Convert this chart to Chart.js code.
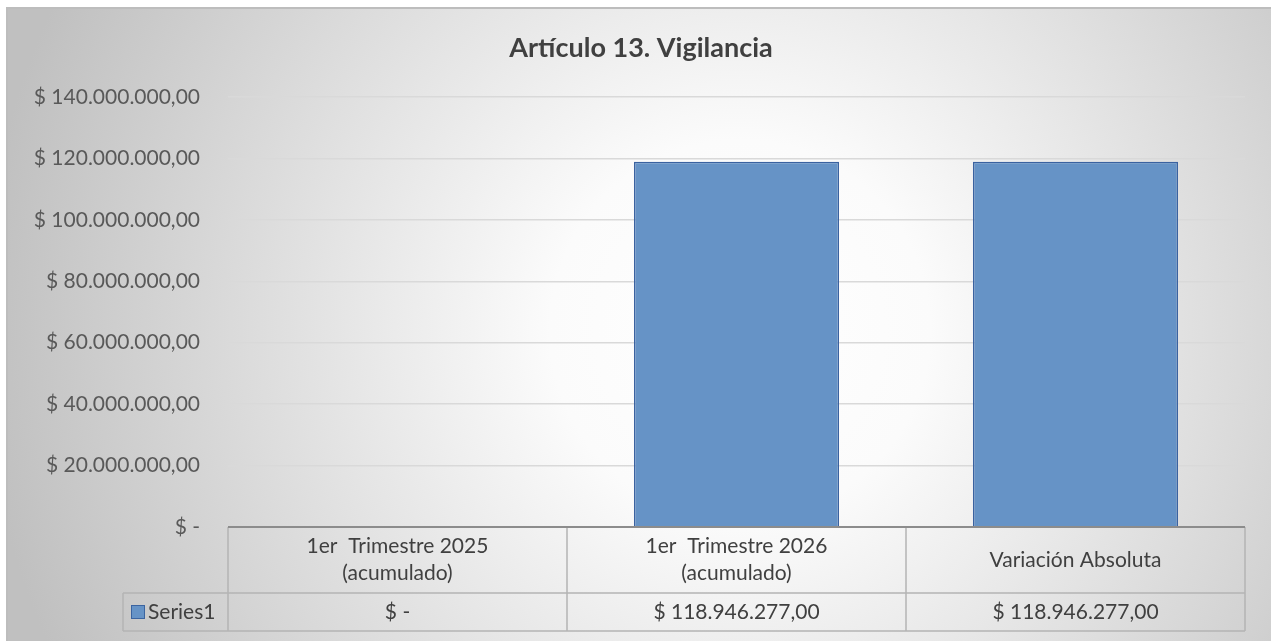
<!DOCTYPE html>
<html>
<head>
<meta charset="utf-8">
<script src="https://cdn.jsdelivr.net/npm/chart.js@4.4.1/dist/chart.umd.min.js"></script>
<style>
  html, body { margin: 0; padding: 0; background: #ffffff; }
  #wrap { width: 1271px; height: 641px; position: relative; }
</style>
</head>
<body>
<div id="wrap"><canvas id="chart" width="1271" height="641"></canvas></div>
<script>
const chartTitle = "Artículo 13. Vigilancia";
const categories = [
    ["1er  Trimestre 2025", "(acumulado)"],
    ["1er  Trimestre 2026", "(acumulado)"],
    ["Variación Absoluta"]
];
const seriesName = "Series1";
const values = [0, 118946277, 118946277];
const yMax = 140000000;
const yStep = 20000000;

const FONT = "Lato, 'Open Sans', sans-serif";
const TEXT_SIZE = 21;

function money(v) {
    if (v === 0) return "$ -";
    const parts = v.toFixed(2).split(".");
    const intPart = parts[0].replace(/\B(?=(\d{3})+(?!\d))/g, ".");
    return "$ " + intPart + "," + parts[1];
}

// background, frame and title
const backdrop = {
    id: "backdrop",
    beforeDraw(chart) {
        const ctx = chart.ctx;
        ctx.save();
        const g = ctx.createRadialGradient(740, 330, 0, 740, 330, 760);
        g.addColorStop(0, "#ffffff");
        g.addColorStop(0.25, "#fbfbfb");
        g.addColorStop(1, "#c0c0c0");
        ctx.fillStyle = g;
        ctx.fillRect(7, 8, 1264, 633);
        ctx.strokeStyle = "#bdbdbd";
        ctx.lineWidth = 2;
        ctx.beginPath();
        ctx.moveTo(7, 641);
        ctx.lineTo(7, 8);
        ctx.lineTo(1271, 8);
        ctx.stroke();
        ctx.fillStyle = "#404040";
        ctx.font = "bold 27px " + FONT;
        ctx.textAlign = "center";
        ctx.textBaseline = "middle";
        ctx.fillText(chartTitle, 641, 48);
        ctx.restore();
    }
};

// data table under the plot, columns taken from the x scale
const dataTable = {
    id: "dataTable",
    afterDraw(chart) {
        const ctx = chart.ctx;
        const x = chart.scales.x;
        const area = chart.chartArea;
        const top = area.bottom;
        const mid = top + 66;
        const bottom = top + 104;
        const keyLeft = 123;
        const half = (x.getPixelForValue(1) - x.getPixelForValue(0)) / 2;
        const edges = [];
        for (let i = 0; i < categories.length; i++) edges.push(x.getPixelForValue(i) - half);
        edges.push(x.getPixelForValue(categories.length - 1) + half);

        ctx.save();
        ctx.strokeStyle = "#b4b4b4";
        ctx.lineWidth = 1.5;
        ctx.beginPath();
        ctx.moveTo(keyLeft, mid); ctx.lineTo(edges[edges.length - 1], mid);
        ctx.moveTo(keyLeft, bottom); ctx.lineTo(edges[edges.length - 1], bottom);
        ctx.moveTo(keyLeft, mid); ctx.lineTo(keyLeft, bottom);
        edges.forEach(e => { ctx.moveTo(e, top); ctx.lineTo(e, bottom); });
        ctx.stroke();

        // axis line
        ctx.strokeStyle = "#8c8c8c";
        ctx.lineWidth = 2;
        ctx.beginPath();
        ctx.moveTo(edges[0], top); ctx.lineTo(edges[edges.length - 1], top);
        ctx.stroke();

        ctx.fillStyle = "#404040";
        ctx.font = TEXT_SIZE + "px " + FONT;
        ctx.textAlign = "center";
        ctx.textBaseline = "middle";
        categories.forEach((lines, i) => {
            const cx = x.getPixelForValue(i);
            const cy = (top + mid) / 2;
            const lh = 27;
            lines.forEach((t, j) => {
                ctx.fillText(t, cx, cy + (j - (lines.length - 1) / 2) * lh);
            });
            ctx.fillText(money(values[i]), cx, (mid + bottom) / 2);
        });

        // legend key
        const ry = (mid + bottom) / 2;
        ctx.fillStyle = "#6693c6";
        ctx.fillRect(131, ry - 7, 14, 14);
        ctx.strokeStyle = "#3b64a0";
        ctx.lineWidth = 1;
        ctx.strokeRect(131.5, ry - 6.5, 13, 13);
        ctx.fillStyle = "#404040";
        ctx.textAlign = "left";
        ctx.fillText(seriesName, 148, ry);
        ctx.restore();
    }
};

new Chart(document.getElementById("chart"), {
    type: "bar",
    data: {
        labels: categories,
        datasets: [{
            label: seriesName,
            data: values,
            backgroundColor: "#6693c6",
            borderColor: "#3a62a0",
            borderWidth: 1.5,
            barPercentage: 0.605,
            categoryPercentage: 1
        }]
    },
    options: {
        responsive: false,
        animation: false,
        layout: { padding: { top: 97, right: 26, bottom: 114, left: 0 } },
        plugins: {
            legend: { display: false },
            title: { display: false },
            tooltip: { enabled: false }
        },
        scales: {
            x: { display: false },
            y: {
                min: 0,
                max: yMax,
                afterFit(scale) { scale.width = 228; },
                border: { display: false },
                grid: { color: "#d9d9d9", lineWidth: 1.5, drawTicks: false },
                ticks: {
                    stepSize: yStep,
                    padding: 28,
                    color: "#595959",
                    font: { family: FONT, size: TEXT_SIZE },
                    callback: v => money(v)
                }
            }
        }
    },
    plugins: [backdrop, dataTable]
});
</script>
</body>
</html>
